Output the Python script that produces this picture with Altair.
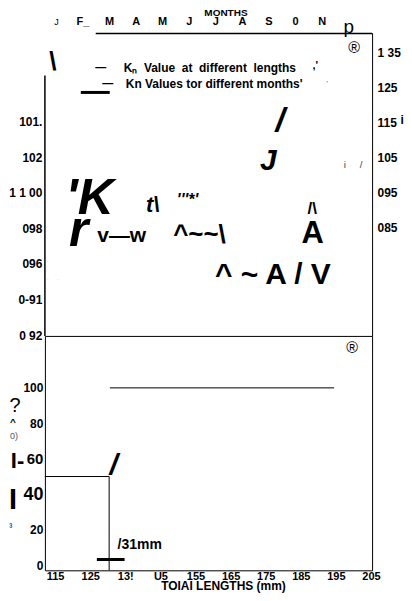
import json
import altair as alt
import pandas as pd

FONT = "Liberation Sans"
NARROW = "Liberation Sans Narrow, Liberation Sans"
S = "\u00a0"  # non-breaking space (SVG collapses ordinary runs of spaces)

# ---------------- data ----------------
month_ticks = list(range(1, 13))
month_labels = ["J", "F_", "M", "A", "M", "J", "J", "A", "S", "0", "N", "p"]
kn_length_ticks = [1.04, 1.02, 1.00, 0.98, 0.96, 0.94, 0.92]
kn_length_labels = ["101.", "102", "1 1 00", "098", "096", "0-91", "0 92"]
kn_month_ticks = [1.35, 1.25, 1.15, 1.05, 0.95, 0.85]
kn_month_labels = ["1 35", "125", "115", "105", "095", "085"]
length_ticks = [115, 125, 135, 145, 155, 165, 175, 185, 195, 205]
length_labels = ["115", "125", "13!", "U5", "155", "165", "175", "185", "195", "205"]
pct_ticks = [0, 20, 40, 60, 80, 100]

# upper panel: text fragments (month position, Kn value)
top_text = ["\\", "—", "—",
            (S * 2).join(["Kₙ", "Value", "at", "different", "lengths"]),
            " ".join(["Kn", "Values", "tor", "different", "months'"]),
            ",'", "'", "/", "J", "i" + S * 5 + "/", "'K", "t\\", "'''*'", "/\\", "r", "v—w", "^~~\\", "A",
            "^ ~ A / V", "®", "i", "." + S * 5 + "."]
top_month = [0.887, 2.689, 2.952, 3.55, 3.63, 10.76, 11.21, 9.446, 8.995, 12.186, 2.276, 4.641,
             5.955, 10.647, 1.863, 3.477, 6.405, 10.666, 9.165, 12.22, 14.03, 0.887]
top_kn = [1.0737, 1.0703, 1.0614, 1.0703, 1.0614, 1.0714, 1.0614, 1.0401, 1.0178, 1.0156, 0.9966,
          0.9932, 0.9960, 0.9910, 0.9782, 0.9754, 0.9765, 0.9770, 0.9536, 1.0815, 1.0407, 0.9519]

# upper panel: frame pieces and legend bar
left_border_month = [0.587]
left_border_kn = [1.0659, 0.9195]
top_border_month = [2.5, 12.9]
top_border_kn = [1.0895]
legend_bar_month = [1.938, 3.027]
legend_bar_kn = [1.0564]

# lower panel: text fragments (length mm, percent)
bot_text = ["®", "/", "/31mm", "?", "^", "0)", "I-", "I", "³"]
bot_len = [199.6, 131.7, 132.8, 103.6, 103.0, 103.3, 104.3, 103.0, 102.4]
bot_pct = [122.6, 55.9, 11.6, 89.7, 80.8, 73.0, 59.0, 36.7, 21.6]

# lower panel: line segments (len1, len2, pct1, pct2)
bot_seg_l1 = [130.6, 112.1, 130.4]
bot_seg_l2 = [194.5, 130.4, 130.4]
bot_seg_p1 = [100, 50, 50]
bot_seg_p2 = [100, 50, -2.9]
bar_len = [126.9, 134.8]
bar_pct = [3.2]

# ---------------- styles (kept apart from the data) ----------------
B, I = "bold", "italic"
top_style = [
    dict(fontSize=26, fontWeight=B),
    dict(fontSize=11, fontWeight=B),
    dict(fontSize=11, fontWeight=B),
    dict(fontSize=12, fontWeight=B, align="left"),
    dict(fontSize=12, fontWeight=B, align="left"),
    dict(fontSize=11, fontWeight=B),
    dict(fontSize=8, color="#666"),
    dict(fontSize=34, fontWeight=B, fontStyle=I),
    dict(fontSize=30, fontWeight=B, fontStyle=I),
    dict(fontSize=10, color="#444"),
    dict(fontSize=50, fontWeight=B, fontStyle=I, font=NARROW),
    dict(fontSize=22, fontStyle=I, fontWeight=B),
    dict(fontSize=16, fontStyle=I, fontWeight=B),
    dict(fontSize=17, fontWeight=B),
    dict(fontSize=50, fontWeight=B, fontStyle=I, font=NARROW),
    dict(fontSize=21, fontWeight=B),
    dict(fontSize=26, fontWeight=B),
    dict(fontSize=31, fontWeight=B),
    dict(fontSize=30, fontWeight=B),
    dict(fontSize=16),
    dict(fontSize=12, fontWeight=B),
    dict(fontSize=6, color="#bbb"),
]
bot_style = [
    dict(fontSize=16),
    dict(fontSize=30, fontWeight=B, fontStyle=I),
    dict(fontSize=14, fontWeight=B, align="left"),
    dict(fontSize=20),
    dict(fontSize=10, fontWeight=B),
    dict(fontSize=9, color="#555"),
    dict(fontSize=22, fontWeight=B),
    dict(fontSize=29, fontWeight=B),
    dict(fontSize=9),
]

# ---------------- scales & axes ----------------
m_scale = alt.Scale(domain=[0.587, 12.9], nice=False, zero=False)
kl_scale = alt.Scale(domain=[0.9195, 1.09], nice=False, zero=False)
km_scale = alt.Scale(domain=[0.542, 1.406], nice=False, zero=False)
len_scale = alt.Scale(domain=[112.1, 205.3], nice=False, zero=False)
pct_scale = alt.Scale(domain=[-2.9, 129.3], nice=False, zero=False)

month_axis = alt.Axis(
    orient="top", values=month_ticks,
    labelExpr=f"{json.dumps(month_labels)}[datum.value - 1]",
    domain=False, ticks=False, grid=False, labelAngle=0,
    labelPadding={"condition": {"test": "datum.value == 12", "value": 0}, "value": 6},
    labelBaseline={"condition": {"test": "datum.value == 12", "value": "alphabetic"}, "value": "bottom"},
    labelFlush=False, labelOverlap=False, labelFont=FONT, labelColor="black",
    labelFontSize={"condition": [{"test": "datum.value == 1", "value": 9},
                                 {"test": "datum.value == 12", "value": 19}], "value": 11},
    labelFontWeight={"condition": {"test": "datum.value == 1 || datum.value == 12", "value": "normal"},
                     "value": "bold"},
    title="MONTHS", titleFont=FONT, titleFontSize=10, titleFontWeight="bold", titleColor="black",
    titleX=181, titleY=-20, titleBaseline="middle",
)
kl_axis = alt.Axis(
    orient="left", values=kn_length_ticks,
    labelExpr=f"{json.dumps(kn_length_labels)}[round((1.04 - datum.value) / 0.02)]",
    domain=False, ticks=False, grid=False, labelPadding=3, labelFlush=False, labelOverlap=False,
    labelFont=FONT, labelFontSize=12, labelFontWeight="bold", labelColor="black", title=None,
)
km_axis = alt.Axis(
    orient="right", values=kn_month_ticks,
    labelExpr=f"{json.dumps(kn_month_labels)}[round((1.35 - datum.value) / 0.1)]",
    domain=True, domainColor="black", domainWidth=1, ticks=False, grid=False, labelPadding=5,
    labelFlush=False, labelOverlap=False,
    labelFont=FONT, labelFontSize=12, labelFontWeight="bold", labelColor="black", title=None,
)
len_axis = alt.Axis(
    orient="bottom", values=length_ticks,
    labelExpr=f"{json.dumps(length_labels)}[round((datum.value - 115) / 10)]",
    domain=False, ticks=False, grid=False, labelPadding=0, labelFlush=False, labelOverlap=False,
    labelFont=NARROW, labelFontSize=11, labelFontWeight="bold", labelColor="black",
    title="TOIAI LENGTHS (mm)", titleFont=FONT, titleFontSize=12, titleFontWeight="bold",
    titleColor="black", titleX=178.5, titleY=15, titleBaseline="middle",
)
pct_axis = alt.Axis(
    orient="left", values=pct_ticks, format="d",
    domain=False, ticks=False, grid=False, labelPadding=2, labelFlush=False, labelOverlap=False,
    labelFont=FONT, labelColor="black", labelFontWeight="bold",
    labelFontSize={"condition": [{"test": "datum.value == 40", "value": 18},
                                 {"test": "datum.value == 60", "value": 15}], "value": 12},
    title=None,
)

X_M = alt.X("m:Q", scale=m_scale, axis=month_axis)
X_M2 = alt.X2("m2:Q")
Y_KL = alt.Y("k:Q", scale=kl_scale, axis=kl_axis)
Y_KL2 = alt.Y2("k2:Q")
X_L = alt.X("l:Q", scale=len_scale, axis=len_axis)
X_L2 = alt.X2("l2:Q")
Y_P = alt.Y("p:Q", scale=pct_scale, axis=pct_axis)
Y_P2 = alt.Y2("p2:Q")

# ---------------- upper panel ----------------
left_layers = []
for t, mv, kv, st in zip(top_text, top_month, top_kn, top_style):
    st = dict(st)
    st.setdefault("font", FONT)
    st.setdefault("color", "black")
    st.setdefault("align", "center")
    left_layers.append(
        alt.Chart(pd.DataFrame({"m": [mv], "k": [kv], "t": [t]}))
        .mark_text(baseline="middle", **st)
        .encode(x=X_M, y=Y_KL, text="t:N")
    )

frame = pd.DataFrame({
    "m": [left_border_month[0], top_border_month[0]],
    "m2": [left_border_month[0], top_border_month[1]],
    "k": [left_border_kn[0], top_border_kn[0]],
    "k2": [left_border_kn[1], top_border_kn[0]],
})
left_layers.append(
    alt.Chart(frame).mark_rule(color="black", strokeWidth=1.5)
    .encode(x=X_M, x2=X_M2, y=Y_KL, y2=Y_KL2)
)
left_layers.append(
    alt.Chart(pd.DataFrame({"m": [legend_bar_month[0]], "m2": [legend_bar_month[1]], "k": legend_bar_kn}))
    .mark_rule(color="black", strokeWidth=3)
    .encode(x=X_M, x2=X_M2, y=Y_KL)
)

right_layer = (
    alt.Chart(pd.DataFrame({"m": [1] * len(kn_month_ticks), "kr": kn_month_ticks}))
    .mark_point(opacity=0)
    .encode(x=X_M, y=alt.Y("kr:Q", scale=km_scale, axis=km_axis))
)

top = (
    alt.layer(alt.layer(*left_layers), right_layer)
    .resolve_scale(y="independent")
    .properties(width=328, height=304, view=alt.ViewBackground(stroke=None))
)

# ---------------- lower panel ----------------
bot_layers = []
for t, lv, pv, st in zip(bot_text, bot_len, bot_pct, bot_style):
    st = dict(st)
    st.setdefault("font", FONT)
    st.setdefault("color", "black")
    st.setdefault("align", "center")
    bot_layers.append(
        alt.Chart(pd.DataFrame({"l": [lv], "p": [pv], "t": [t]}))
        .mark_text(baseline="middle", **st)
        .encode(x=X_L, y=Y_P, text="t:N")
    )
segs_bot = pd.DataFrame({"l": bot_seg_l1, "l2": bot_seg_l2, "p": bot_seg_p1, "p2": bot_seg_p2})
bot_layers.append(
    alt.Chart(segs_bot).mark_rule(color="black", strokeWidth=1)
    .encode(x=X_L, x2=X_L2, y=Y_P, y2=Y_P2)
)
bar = pd.DataFrame({"l": [bar_len[0]], "l2": [bar_len[1]], "p": bar_pct})
bot_layers.append(
    alt.Chart(bar).mark_rule(color="black", strokeWidth=3)
    .encode(x=X_L, x2=X_L2, y=Y_P)
)

bottom = alt.layer(*bot_layers).properties(
    width=328, height=235, view=alt.ViewBackground(stroke="black", strokeWidth=1)
)

chart = (
    alt.vconcat(top, bottom, spacing=0, bounds="flush")
    .properties(padding={"left": 0, "top": -1, "right": 0, "bottom": 0}, background="white")
)

chart.save("out.html", embed_options={"renderer": "svg", "actions": False})
